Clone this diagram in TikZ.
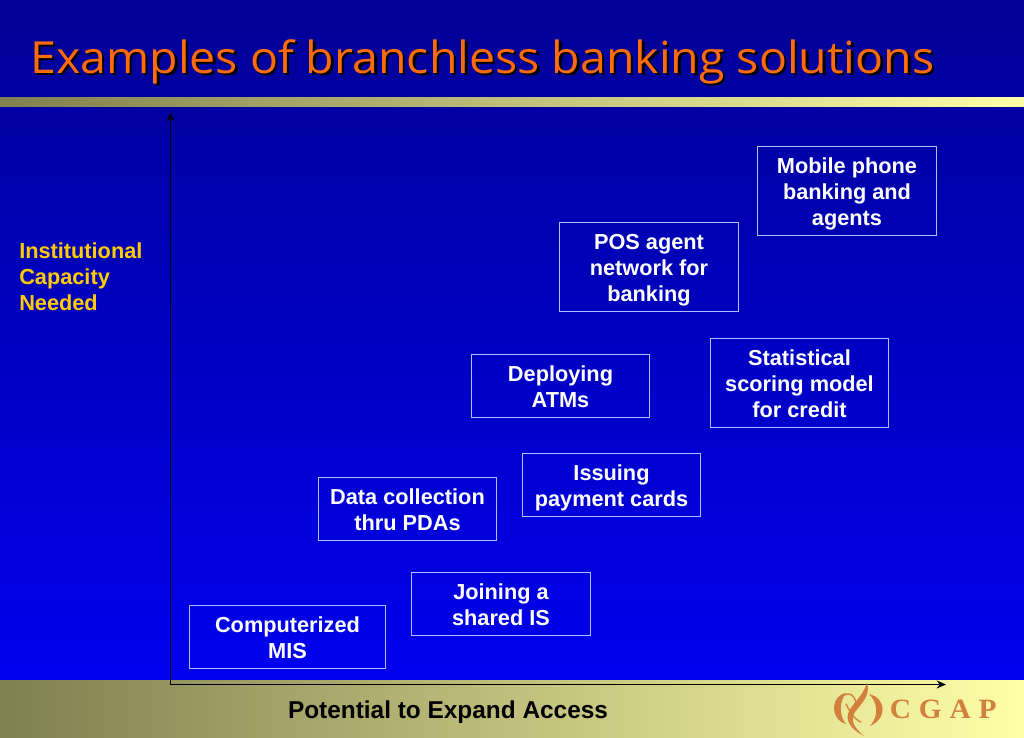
\documentclass[tikz,border=0pt]{standalone}
\usepackage{fontspec}
\setmainfont{Liberation Sans}
\newfontfamily\titlefont[FakeStretch=1.05]{Open Sans}
\newfontfamily\logofont[LetterSpace=28,FakeStretch=1.05]{Liberation Serif}
\usetikzlibrary{arrows.meta}
\definecolor{bgtop}{HTML}{000095}
\definecolor{bgbot}{HTML}{0000EE}
\definecolor{barl}{HTML}{807F50}
\definecolor{barr}{HTML}{FFFFA8}
\definecolor{boxline}{HTML}{B4BEFF}
\definecolor{ttl}{HTML}{FF6A0A}
\definecolor{cap}{HTML}{FFCC00}
\definecolor{logoc}{HTML}{D2803C}
\newcommand{\tops}{\rule{0pt}{17.3pt}}
\newcommand{\bots}{\rule[-4pt]{0pt}{4pt}}
\tikzset{
  x=0.75pt,y=-0.75pt,
  itembox/.style={draw=boxline,line width=0.6pt,align=center,text=white,font=\fontsize{16.3}{19.5}\selectfont\bfseries,minimum width=134pt,inner sep=0pt,anchor=center},
  axisline/.style={black,line width=1.4pt,{Stealth[length=7pt,width=6pt]}-{Stealth[length=7pt,width=6pt]}},
  logoline/.style={logoc,line width=1pt,line cap=round},
  logofill/.style={fill=logoc,draw=none},
}
\begin{document}
\begin{tikzpicture}
\useasboundingbox (0,0) rectangle (1024,738);
\shade[top color=bgtop,bottom color=bgbot] (0,0) rectangle (1024,680);
\shade[left color=barl,right color=barr] (0,98) rectangle (1024,107);
\shade[left color=barl,right color=barr] (0,680) rectangle (1024,738);
% title
\node[anchor=base west,inner sep=0pt,text=black,font=\titlefont\fontsize{33.2}{40}\selectfont] at (32.5,76) {Examples of branchless banking solutions};
\node[anchor=base west,inner sep=0pt,text=ttl,font=\titlefont\fontsize{33.2}{40}\selectfont] (title) at (30,73.5) {Examples of branchless banking solutions};
% axes
\coordinate (ytop) at (170.5,112);
\coordinate (orig) at (170.5,684.5);
\coordinate (xend) at (946,684.5);
\draw[axisline] (ytop) -- (orig) -- (xend);
% axis labels
\node[anchor=north west,inner sep=0pt,align=left,text=cap,font=\fontsize{16.3}{19.5}\selectfont\bfseries] (ylab) at (19,242) {Institutional\\Capacity\\Needed};
\node[anchor=center,inner sep=0pt,text=black,font=\fontsize{18.3}{22}\selectfont\bfseries] (xlab) at (448,712.5) {Potential to Expand Access};
% boxes
\node[itembox,minimum height=67pt] (mobile) at (847,191) {\tops Mobile phone\\banking and\\\bots agents};
\node[itembox,minimum height=67pt] (pos) at (649,267) {\tops POS agent\\network for\\\bots banking};
\node[itembox,minimum height=67pt] (stat) at (799.5,383) {\tops Statistical\\scoring model\\\bots for credit};
\node[itembox,minimum height=47.5pt] (atm) at (560.5,386) {\tops Deploying\\\bots ATMs};
\node[itembox,minimum height=47.5pt] (card) at (611.5,485) {\tops Issuing\\\bots payment cards};
\node[itembox,minimum height=47.5pt] (pda) at (407.5,509) {\tops Data collection\\\bots thru PDAs};
\node[itembox,minimum height=47.5pt] (shared) at (501,604) {\tops Joining a\\\bots shared IS};
\node[itembox,minimum height=47.5pt,minimum width=147pt] (mis) at (287.5,637) {\tops Computerized\\\bots MIS};
% logo
\fill[logofill] (867,683) .. controls (871,695) and (861,704) .. (855,712) .. controls (850,719) and (853,727) .. (864,736) .. controls (852,730) and (846,722) .. (848,714) .. controls (851,704) and (862,698) .. (867,683) -- cycle;
\fill[logofill] (846,693) .. controls (831,695) and (829,719) .. (846,724) .. controls (839,716) and (839,702) .. (846,693) -- cycle;
\fill[logofill] (869,694) .. controls (886,698) and (888,718) .. (870,726) .. controls (879,716) and (878,703) .. (869,694) -- cycle;
\draw[logoline] (844,695) .. controls (850,692) and (855,695) .. (856,704);
\draw[logoline] (846,704) .. controls (850,712) and (855,720) .. (861,722);
\node[anchor=base west,inner sep=0pt,text=logoc,font=\logofont\fontsize{21}{24}\selectfont\bfseries] (logo) at (889.5,718) {CGAP};
\end{tikzpicture}
\end{document}
